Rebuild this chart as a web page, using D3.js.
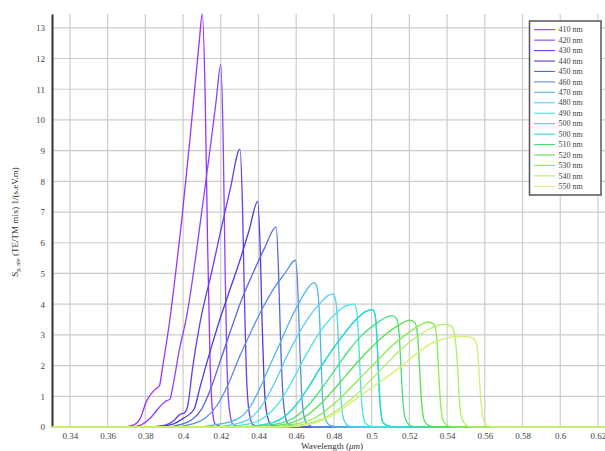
<!DOCTYPE html>
<html>
<head>
<meta charset="utf-8">
<script src="https://cdn.jsdelivr.net/npm/d3@7"></script>
<style>
  body { margin: 0; background: #fff; }
  text { font-family: "Liberation Serif", "DejaVu Serif", serif; }
</style>
</head>
<body>
<script>
//chart size
var w = 605, h = 451;

//x tick values (wavelength, um) and y tick values
var xTicks = [0.34, 0.36, 0.38, 0.4, 0.42, 0.44, 0.46, 0.48, 0.5, 0.52, 0.54, 0.56, 0.58, 0.6, 0.62];
var yTicks = [0, 1, 2, 3, 4, 5, 6, 7, 8, 9, 10, 11, 12, 13];

//legend names, one per curve
var names = ["410 nm", "420 nm", "430 nm", "440 nm", "450 nm", "460 nm", "470 nm", "480 nm",
    "490 nm", "500 nm", "500 nm", "510 nm", "520 nm", "530 nm", "540 nm", "550 nm"];

//curves: [wavelength, value]
var s410 = [[0.3305,0],[0.368,0],[0.373,0.05],[0.377,0.25],[0.3807,0.85],[0.384,1.15],[0.386,1.26],[0.3875,1.35],[0.389,1.9],[0.393,3.5],[0.3966,5.3],[0.3993,6.74],[0.404,9.6],[0.4085,12.5],[0.4102,13.45],[0.4118,10.5],[0.413,6],[0.4143,2.2],[0.4155,0.6],[0.417,0.1],[0.422,0],[0.624,0]];
var s420 = [[0.3305,0],[0.372,0],[0.377,0.05],[0.382,0.25],[0.3877,0.66],[0.391,0.85],[0.393,0.9],[0.3945,1.3],[0.398,2.5],[0.4019,3.6],[0.4072,5.77],[0.409,6.6],[0.414,8.9],[0.4175,10.6],[0.42,11.8],[0.4213,9.2],[0.4222,5.5],[0.4232,2.2],[0.4245,0.6],[0.4265,0.08],[0.431,0],[0.624,0]];
var s430 = [[0.3305,0],[0.38,0],[0.39,0.05],[0.395,0.2],[0.3985,0.42],[0.4005,0.45],[0.4025,0.7],[0.405,1.9],[0.409,3.4],[0.415,5.0],[0.42,6.4],[0.425,7.75],[0.4302,9.05],[0.4315,7.2],[0.4325,4.3],[0.4335,1.9],[0.435,0.5],[0.437,0.08],[0.442,0],[0.624,0]];
var s440 = [[0.3305,0],[0.385,0],[0.395,0.1],[0.4,0.28],[0.4035,0.42],[0.406,0.6],[0.409,1.3],[0.415,2.6],[0.42,3.6],[0.425,4.5],[0.43,5.4],[0.435,6.4],[0.4396,7.35],[0.441,5.6],[0.442,3.2],[0.443,1.4],[0.4445,0.4],[0.447,0.05],[0.452,0],[0.624,0]];
var s450 = [[0.3305,0],[0.39,0],[0.4,0.1],[0.405,0.25],[0.41,0.6],[0.415,1.3],[0.42,2.2],[0.425,3.1],[0.431,4.14],[0.437,5.0],[0.443,5.8],[0.4494,6.52],[0.4506,5.1],[0.4516,3.0],[0.4527,1.3],[0.454,0.4],[0.456,0.08],[0.46,0],[0.624,0]];
var s460 = [[0.3305,0],[0.395,0],[0.405,0.1],[0.412,0.3],[0.418,0.7],[0.424,1.4],[0.43,2.3],[0.436,3.1],[0.442,3.85],[0.448,4.5],[0.454,5.0],[0.4595,5.43],[0.4607,4.7],[0.4617,3.0],[0.4627,1.3],[0.464,0.4],[0.466,0.08],[0.47,0],[0.624,0]];
var s470 = [[0.3305,0],[0.405,0],[0.42,0.1],[0.43,0.3],[0.436,0.7],[0.441,1.3],[0.446,2.0],[0.4514,2.73],[0.457,3.5],[0.462,4.1],[0.4665,4.55],[0.4694,4.7],[0.471,4.55],[0.4722,3.8],[0.4732,2.2],[0.474,0.9],[0.4755,0.25],[0.478,0.05],[0.483,0],[0.624,0]];
var s480 = [[0.3305,0],[0.415,0],[0.428,0.1],[0.437,0.35],[0.443,0.8],[0.449,1.5],[0.455,2.3],[0.461,3.0],[0.467,3.6],[0.473,4.05],[0.4775,4.3],[0.4795,4.33],[0.481,4.1],[0.482,3.3],[0.483,1.8],[0.484,0.7],[0.4855,0.2],[0.488,0.03],[0.493,0],[0.624,0]];
var s490 = [[0.3305,0],[0.42,0],[0.435,0.1],[0.445,0.4],[0.451,0.8],[0.457,1.4],[0.463,2.1],[0.469,2.75],[0.475,3.3],[0.481,3.7],[0.4865,3.95],[0.4905,4.0],[0.492,3.8],[0.493,3.0],[0.494,1.6],[0.495,0.6],[0.4965,0.15],[0.499,0.03],[0.504,0],[0.624,0]];
var s500 = [[0.3305,0],[0.43,0],[0.445,0.1],[0.455,0.4],[0.461,0.8],[0.467,1.35],[0.473,1.95],[0.479,2.5],[0.485,3.0],[0.491,3.45],[0.4965,3.75],[0.5005,3.82],[0.5018,3.65],[0.5028,2.9],[0.5037,1.6],[0.5047,0.6],[0.506,0.15],[0.509,0.03],[0.514,0],[0.624,0]];
var s500b = s500; //legend lists 500 nm twice, same curve
var s510 = [[0.3305,0],[0.435,0],[0.45,0.1],[0.46,0.35],[0.467,0.75],[0.474,1.3],[0.481,1.9],[0.488,2.5],[0.495,3.0],[0.502,3.35],[0.507,3.55],[0.5106,3.63],[0.513,3.55],[0.5145,3.1],[0.5155,2.0],[0.5165,0.9],[0.518,0.25],[0.521,0.03],[0.526,0],[0.624,0]];
var s520 = [[0.3305,0],[0.44,0],[0.455,0.1],[0.465,0.35],[0.472,0.7],[0.479,1.15],[0.486,1.65],[0.493,2.15],[0.5,2.6],[0.507,3.0],[0.514,3.3],[0.5204,3.48],[0.523,3.4],[0.5245,2.9],[0.5255,1.8],[0.5265,0.8],[0.528,0.2],[0.531,0.03],[0.536,0],[0.624,0]];
var s530 = [[0.3305,0],[0.445,0],[0.46,0.1],[0.47,0.3],[0.478,0.65],[0.486,1.1],[0.494,1.6],[0.502,2.1],[0.51,2.6],[0.518,3.0],[0.525,3.3],[0.53,3.42],[0.533,3.35],[0.5345,2.9],[0.5355,1.8],[0.5365,0.8],[0.538,0.2],[0.541,0.03],[0.546,0],[0.624,0]];
var s540 = [[0.3305,0],[0.45,0],[0.465,0.1],[0.475,0.3],[0.483,0.6],[0.491,1.0],[0.499,1.5],[0.507,2.0],[0.515,2.5],[0.523,2.9],[0.531,3.2],[0.538,3.34],[0.542,3.3],[0.544,3.0],[0.5455,2.0],[0.5465,0.9],[0.548,0.25],[0.551,0.03],[0.556,0],[0.624,0]];
var s550 = [[0.3305,0],[0.455,0],[0.468,0.1],[0.478,0.34],[0.487,0.7],[0.496,1.1],[0.505,1.5],[0.5133,1.86],[0.522,2.3],[0.531,2.7],[0.539,2.88],[0.545,2.95],[0.5504,2.94],[0.554,2.88],[0.556,2.6],[0.557,1.7],[0.558,0.8],[0.559,0.3],[0.561,0.05],[0.566,0],[0.624,0]];

var seriesList = [s410, s420, s430, s440, s450, s460, s470, s480, s490, s500, s500b, s510, s520, s530, s540, s550];

//line colours (style, kept apart from the data)
var lineColors = ["#9933ff", "#8844ff", "#6a3cf0", "#4b3ddc", "#5566dd", "#5a8ee6", "#4fb8e8", "#55d0f0",
    "#44e4ea", "#33e0cc", "#2fd8d8", "#44e07a", "#55e04a", "#88ee50", "#b0f060", "#d4f070"];

window.onload = function(){
    var svg = d3.select("body")
        .append("svg")
        .attr("width", w)
        .attr("height", h)
        .style("background-color", "#fff");

    var x = d3.scaleLinear()
        .domain([0.3305, 0.624])
        .range([52, 605.5]);
    var y = d3.scaleLinear()
        .domain([0, 13.45])
        .range([427, 14]);

    //grid lines
    svg.append("g").selectAll("line")
        .data(xTicks)
        .enter()
        .append("line")
        .attr("x1", function(d){ return x(d); })
        .attr("x2", function(d){ return x(d); })
        .attr("y1", y(13.45))
        .attr("y2", y(0))
        .style("stroke", "#cccccc")
        .style("stroke-width", 1.2);
    svg.append("g").selectAll("line")
        .data(yTicks)
        .enter()
        .append("line")
        .attr("x1", x(0.3305))
        .attr("x2", w)
        .attr("y1", function(d){ return y(d); })
        .attr("y2", function(d){ return y(d); })
        .style("stroke", "#cccccc")
        .style("stroke-width", 1.2);

    //axes, only the labels (grid does the rest)
    var xAxis = d3.axisBottom(x)
        .tickValues(xTicks)
        .tickSize(0)
        .tickPadding(6)
        .tickFormat(function(d){ return d3.format("")(+d.toFixed(2)); });
    var gx = svg.append("g")
        .attr("transform", "translate(0," + y(0) + ")")
        .call(xAxis);
    gx.select(".domain").style("stroke", "#444").style("stroke-width", 1);
    gx.selectAll("text")
        .style("font-family", "Liberation Serif, serif")
        .style("font-size", "9px")
        .style("fill", "#444");

    var yAxis = d3.axisLeft(y)
        .tickValues(yTicks)
        .tickSize(0)
        .tickPadding(7);
    var gy = svg.append("g")
        .attr("transform", "translate(" + x(0.3305) + ",0)")
        .call(yAxis);
    gy.select(".domain").style("stroke", "#333").style("stroke-width", 2);
    gy.selectAll("text")
        .style("font-family", "Liberation Serif, serif")
        .style("font-size", "9px")
        .style("fill", "#444");

    //the curves
    var line = d3.line()
        .x(function(d){ return x(d[0]); })
        .y(function(d){ return y(d[1]); })
        .curve(d3.curveMonotoneX);
    svg.append("g").selectAll("path")
        .data(seriesList)
        .enter()
        .append("path")
        .attr("d", line)
        .style("fill", "none")
        .style("stroke", function(d, i){ return lineColors[i]; })
        .style("stroke-width", 1.3);

    //axis titles
    var xt = svg.append("text")
        .attr("x", 332)
        .attr("y", 449)
        .attr("text-anchor", "middle")
        .style("font-size", "9px")
        .style("fill", "#333");
    xt.append("tspan").text("Wavelength (");
    xt.append("tspan").style("font-style", "italic").text("\u03bcm");
    xt.append("tspan").text(")");

    var yt = svg.append("text")
        .attr("transform", "translate(18,222) rotate(-90)")
        .attr("text-anchor", "middle")
        .style("font-size", "9px")
        .style("fill", "#333");
    yt.append("tspan").text("S");
    yt.append("tspan").attr("dy", 2).style("font-size", "6px").text("p, nie");
    yt.append("tspan").attr("dy", -2).text(" (TE/TM mix) 1/(s.eV.m)");

    //legend
    var legend = svg.append("g");
    legend.append("rect")
        .attr("x", 529.5)
        .attr("y", 21)
        .attr("width", 71.5)
        .attr("height", 174)
        .style("fill", "#fff")
        .style("stroke", "#555")
        .style("stroke-width", 1.5);
    var items = legend.selectAll(".item")
        .data(names)
        .enter()
        .append("g")
        .attr("class", "item")
        .attr("transform", function(d, i){ return "translate(0," + (29.7 + i * 10.44) + ")"; });
    items.append("line")
        .attr("x1", 534)
        .attr("x2", 555)
        .style("stroke", function(d, i){ return lineColors[i]; })
        .style("stroke-width", 1.1);
    items.append("text")
        .attr("x", 558.5)
        .attr("dy", "0.33em")
        .style("font-size", "8px")
        .style("fill", "#444")
        .text(function(d){ return d; });
};
</script>
</body>
</html>
